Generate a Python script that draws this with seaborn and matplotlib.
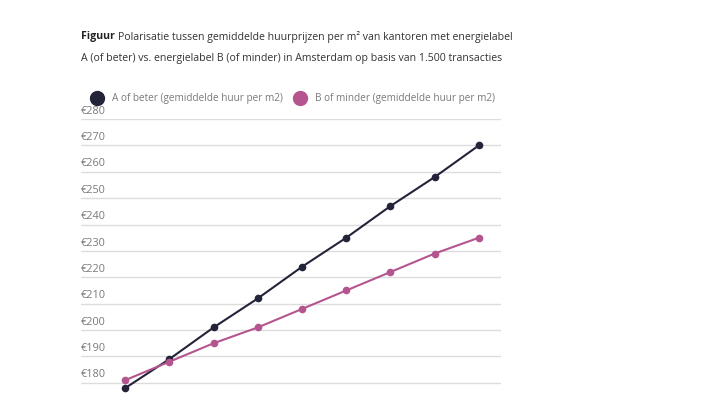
import pandas as pd
import seaborn as sns
import matplotlib.pyplot as plt
from matplotlib.lines import Line2D

# data
steps = list(range(9))
beter = [178, 189, 201, 212, 224, 235, 247, 258, 270]
minder = [181, 188, 195, 201, 208, 215, 222, 229, 235]
labels = ["A of beter (gemiddelde huur per m2)", "B of minder (gemiddelde huur per m2)"]
yticks = [180, 190, 200, 210, 220, 230, 240, 250, 260, 270, 280]

df = pd.concat([
    pd.DataFrame({"stap": steps, "huur": beter, "serie": labels[0]}),
    pd.DataFrame({"stap": steps, "huur": minder, "serie": labels[1]}),
])

colors = {labels[0]: "#23233a", labels[1]: "#b5558f"}

sns.set_style("white")
plt.rcParams["font.family"] = ["Open Sans", "DejaVu Sans"]

fig = plt.figure(figsize=(7.07, 3.98), dpi=100)
ax = fig.add_axes([81 / 707, 0.005, 420 / 707, 0.696])

sns.lineplot(data=df, x="stap", y="huur", hue="serie", palette=colors,
             marker="o", markersize=5.5, markeredgewidth=0, linewidth=1.5,
             legend=False, ax=ax, clip_on=False)

ax.set_xlim(-1, 8.5)
ax.set_ylim(175, 280)
ax.set_yticks(yticks)
ax.set_yticklabels([])
ax.set_xticks([])
ax.set_xlabel("")
ax.set_ylabel("")
ax.tick_params(left=False, bottom=False)
for s in ax.spines.values():
    s.set_visible(False)
for t in yticks:
    ax.axhline(t, color="#dcdcdc", linewidth=1, zorder=0)
    ax.text(0, t + 0.9, "€{}".format(t), transform=ax.get_yaxis_transform(),
            ha="left", va="bottom", fontsize=7.8, color="#7a7a7a")

handles = [Line2D([], [], marker="o", linestyle="", markersize=10,
                  color=colors[l]) for l in labels]
fig.legend(handles, labels, loc="center left", bbox_to_anchor=(0.117, 1 - 99 / 398),
           ncol=2, frameon=False, fontsize=7.2, handletextpad=0.5,
           columnspacing=0.7, labelcolor="#7a7a7a", borderaxespad=0)

# title in two parts: bold "Figuur" then normal text
fig.canvas.draw()
r = fig.canvas.get_renderer()
bold = fig.text(81 / 707, 1 - 37 / 398, "Figuur", fontsize=7.6, fontweight="bold",
                color="#222222", va="center")
w = bold.get_window_extent(renderer=r).width
fig.text((81 + w + 3) / 707, 1 - 37 / 398,
         "Polarisatie tussen gemiddelde huurprijzen per m² van kantoren met energielabel",
         fontsize=7.6, color="#333333", va="center")
fig.text(81 / 707, 1 - 58 / 398,
         "A (of beter) vs. energielabel B (of minder) in Amsterdam op basis van 1.500 transacties",
         fontsize=7.6, color="#333333", va="center")

fig.savefig("out.png", dpi=100)
